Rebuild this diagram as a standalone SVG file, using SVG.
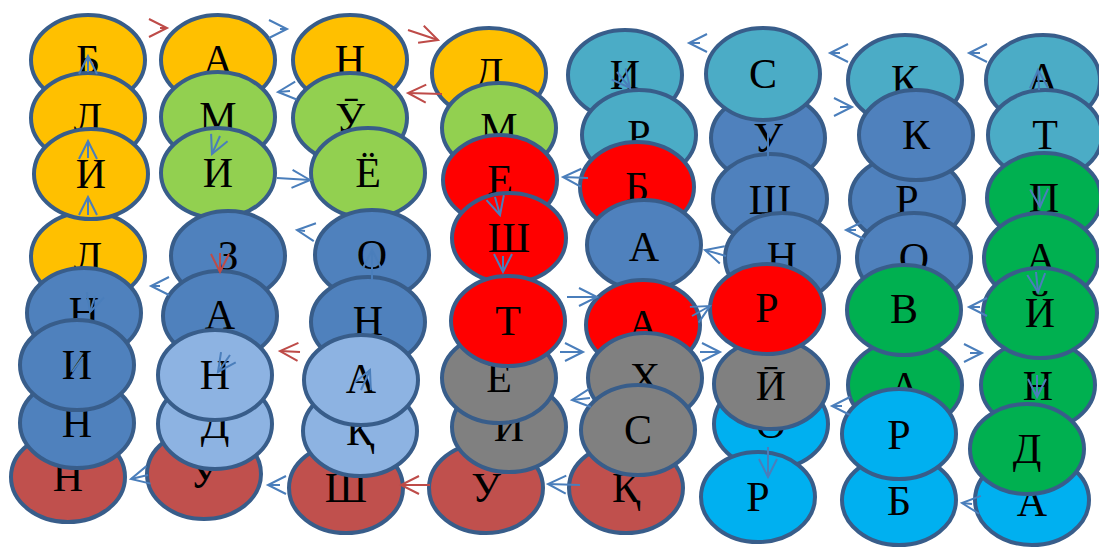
<svg xmlns="http://www.w3.org/2000/svg" width="1099" height="548" viewBox="0 0 1099 548">
<style>
.n{stroke:#385D8A;stroke-width:4}
.yel{fill:#FFC000}.lg{fill:#92D050}.bl{fill:#4F81BD}.lb{fill:#8DB3E2}.rd{fill:#FF0000}.dr{fill:#C0504D}.gr{fill:#808080}.tl{fill:#4BACC6}.cy{fill:#00B0F0}.gn{fill:#00B050}
text{font-family:"Liberation Serif","Times New Roman","DejaVu Serif",serif;font-size:42px;text-anchor:middle;fill:#000}
.cb{stroke:#4A7EBB;stroke-width:2;fill:none;marker-end:url(#ab)}
.cr{stroke:#BE4B48;stroke-width:2;fill:none;marker-end:url(#ar)}
.lnb{stroke:#4A7EBB;stroke-width:2;fill:none}
</style>
<defs>
<marker id="ab" markerUnits="userSpaceOnUse" markerWidth="22" markerHeight="22" refX="18" refY="9" orient="auto" overflow="visible"><path d="M0,0 L18,9 L0,18" fill="none" stroke="#4A7EBB" stroke-width="2"/></marker>
<marker id="ar" markerUnits="userSpaceOnUse" markerWidth="22" markerHeight="22" refX="18" refY="9" orient="auto" overflow="visible"><path d="M0,0 L18,9 L0,18" fill="none" stroke="#BE4B48" stroke-width="2"/></marker>
</defs>
<g id="nodes">
<g id="c1r1"><ellipse class="n yel" cx="88" cy="60" rx="57" ry="45"/><text x="88" y="74">Б</text></g>
<g id="c1r2"><ellipse class="n yel" cx="88" cy="118" rx="57" ry="45"/><text x="88" y="132">Л</text></g>
<g id="c1r4"><ellipse class="n yel" cx="88" cy="257" rx="57" ry="45"/><text x="88" y="271">Л</text></g>
<g id="c1r3"><ellipse class="n yel" cx="91" cy="174" rx="57" ry="45"/><text x="91" y="188">И</text></g>
<g id="c1r5"><ellipse class="n bl" cx="84" cy="313" rx="57" ry="45"/><text x="84" y="326">Н</text></g>
<g id="c1r8"><ellipse class="n dr" cx="68" cy="477" rx="57" ry="45"/><text x="68" y="491">Н</text></g>
<g id="c1r7"><ellipse class="n bl" cx="77" cy="423" rx="57" ry="45"/><text x="77" y="437">Н</text></g>
<g id="c1r6"><ellipse class="n bl" cx="77" cy="365" rx="57" ry="45"/><text x="77" y="379">И</text></g>

<g id="c2r1"><ellipse class="n yel" cx="218" cy="60" rx="57" ry="45"/><text x="218" y="74">А</text></g>
<g id="c2r2"><ellipse class="n lg" cx="218" cy="117" rx="57" ry="45"/><text x="218" y="131">М</text></g>
<g id="c2r3"><ellipse class="n lg" cx="218" cy="173" rx="57" ry="45"/><text x="218" y="187">И</text></g>
<g id="c2r4"><ellipse class="n bl" cx="228" cy="256" rx="57" ry="45"/><text x="228" y="270">З</text></g>
<g id="c2r5"><ellipse class="n bl" cx="220" cy="316" rx="57" ry="45"/><text x="220" y="329">А</text></g>
<g id="c2r8"><ellipse class="n dr" cx="204" cy="474" rx="57" ry="45"/><text x="204" y="488">У</text></g>
<g id="c2r7"><ellipse class="n lb" cx="215" cy="424" rx="57" ry="45"/><text x="215" y="438">Д</text></g>
<g id="c2r6"><ellipse class="n lb" cx="215" cy="375" rx="57" ry="45"/><text x="215" y="389">Н</text></g>

<g id="c3r1"><ellipse class="n yel" cx="350" cy="60" rx="57" ry="45"/><text x="350" y="74">Н</text></g>
<g id="c3r2"><ellipse class="n lg" cx="350" cy="118" rx="57" ry="45"/><text x="350" y="132">Ӯ</text></g>
<g id="c3r3"><ellipse class="n lg" cx="368" cy="173" rx="57" ry="45"/><text x="368" y="187">Ё</text></g>
<g id="c3r4"><ellipse class="n bl" cx="372" cy="255" rx="57" ry="45"/><text x="372" y="269">О</text></g>
<g id="c3r5"><ellipse class="n bl" cx="368" cy="322" rx="57" ry="45"/><text x="368" y="335">Н</text></g>
<g id="c3r8"><ellipse class="n dr" cx="346" cy="488" rx="57" ry="45"/><text x="346" y="502">Ш</text></g>
<g id="c3r7"><ellipse class="n lb" cx="360" cy="431" rx="57" ry="45"/><text x="360" y="445">Қ</text></g>
<g id="c3r6"><ellipse class="n lb" cx="361" cy="380" rx="57" ry="45"/><text x="361" y="393">А</text></g>

<g id="c4r1"><ellipse class="n yel" cx="489" cy="73" rx="57" ry="45"/><text x="489" y="87">Д</text></g>
<g id="c4r2"><ellipse class="n lg" cx="499" cy="128" rx="57" ry="45"/><text x="499" y="142">М</text></g>
<g id="c4r3"><ellipse class="n rd" cx="500" cy="180" rx="57" ry="45"/><text x="500" y="194">Е</text></g>
<g id="c4r4"><ellipse class="n rd" cx="509" cy="238" rx="57" ry="45"/><text x="509" y="252">Ш</text></g>
<g id="c4r8"><ellipse class="n dr" cx="486" cy="488" rx="57" ry="45"/><text x="486" y="502">У</text></g>
<g id="c4r7"><ellipse class="n gr" cx="509" cy="427" rx="57" ry="45"/><text x="509" y="441">И</text></g>
<g id="c4r6"><ellipse class="n gr" cx="499" cy="378" rx="57" ry="45"/><text x="499" y="392">Е</text></g>
<g id="c4r5"><ellipse class="n rd" cx="508" cy="321" rx="57" ry="45"/><text x="508" y="335">Т</text></g>

<g id="c5r1"><ellipse class="n tl" cx="625" cy="75" rx="57" ry="45"/><text x="625" y="89">И</text></g>
<g id="c5r2"><ellipse class="n tl" cx="639" cy="135" rx="57" ry="45"/><text x="639" y="149">Р</text></g>
<g id="c5r3"><ellipse class="n rd" cx="637" cy="187" rx="57" ry="45"/><text x="637" y="201">Б</text></g>
<g id="c5r4"><ellipse class="n bl" cx="644" cy="245" rx="57" ry="45"/><text x="644" y="261">А</text></g>
<g id="c5r5"><ellipse class="n rd" cx="643" cy="325" rx="57" ry="45"/><text x="643" y="339">А</text></g>
<g id="c5r8"><ellipse class="n dr" cx="626" cy="488" rx="57" ry="45"/><text x="626" y="502">Қ</text></g>
<g id="c5r6"><ellipse class="n gr" cx="645" cy="378" rx="57" ry="45"/><text x="645" y="392">Х</text></g>
<g id="c5r7"><ellipse class="n gr" cx="638" cy="430" rx="57" ry="45"/><text x="638" y="444">С</text></g>

<g id="c6r2"><ellipse class="n bl" cx="768" cy="138" rx="57" ry="45"/><text x="768" y="152">У</text></g>
<g id="c6r1"><ellipse class="n tl" cx="763" cy="74" rx="57" ry="46"/><text x="763" y="88">С</text></g>
<g id="c6r3"><ellipse class="n bl" cx="770" cy="199" rx="57" ry="45"/><text x="770" y="214">Ш</text></g>
<g id="c6r4"><ellipse class="n bl" cx="782" cy="258" rx="57" ry="45"/><text x="782" y="271">Н</text></g>
<g id="c6r7"><ellipse class="n cy" cx="771" cy="424" rx="57" ry="45"/><text x="771" y="438">О</text></g>
<g id="c6r6"><ellipse class="n gr" cx="771" cy="384" rx="57" ry="45"/><text x="771" y="400">Ӣ</text></g>
<g id="c6r5"><ellipse class="n rd" cx="767" cy="309" rx="57" ry="45"/><text x="767" y="322">Р</text></g>
<g id="c6r8"><ellipse class="n cy" cx="758" cy="497" rx="57" ry="45"/><text x="758" y="511">Р</text></g>

<g id="c7r1"><ellipse class="n tl" cx="905" cy="80" rx="57" ry="45"/><text x="905" y="94">К</text></g>
<g id="c7r3"><ellipse class="n bl" cx="907" cy="200" rx="57" ry="45"/><text x="907" y="214">Р</text></g>
<g id="c7r2"><ellipse class="n bl" cx="916" cy="135" rx="57" ry="45"/><text x="916" y="149">К</text></g>
<g id="c7r4"><ellipse class="n bl" cx="914" cy="258" rx="57" ry="45"/><text x="914" y="272">О</text></g>
<g id="c7r6"><ellipse class="n gn" cx="905" cy="385" rx="57" ry="45"/><text x="905" y="401">А</text></g>
<g id="c7r5"><ellipse class="n gn" cx="904" cy="310" rx="57" ry="45"/><text x="904" y="323">В</text></g>
<g id="c7r8"><ellipse class="n cy" cx="899" cy="500" rx="57" ry="45"/><text x="899" y="515">Б</text></g>
<g id="c7r7"><ellipse class="n cy" cx="899" cy="434" rx="57" ry="45"/><text x="899" y="449">Р</text></g>

<g id="c8r1"><ellipse class="n tl" cx="1043" cy="80" rx="57" ry="45"/><text x="1043" y="92">А</text></g>
<g id="c8r2"><ellipse class="n tl" cx="1045" cy="135" rx="57" ry="45"/><text x="1045" y="149">Т</text></g>
<g id="c8r3"><ellipse class="n gn" cx="1044" cy="198" rx="57" ry="45"/><text x="1044" y="212">П</text></g>
<g id="c8r4"><ellipse class="n gn" cx="1041" cy="258" rx="57" ry="45"/><text x="1041" y="272">А</text></g>
<g id="c8r6"><ellipse class="n gn" cx="1038" cy="385" rx="57" ry="45"/><text x="1038" y="400">Н</text></g>
<g id="c8r5"><ellipse class="n gn" cx="1040" cy="313" rx="57" ry="45"/><text x="1040" y="327">Й</text></g>
<g id="c8r8"><ellipse class="n cy" cx="1032" cy="500" rx="57" ry="45"/><text x="1032" y="516">А</text></g>
<g id="c8r7"><ellipse class="n gn" cx="1027" cy="449" rx="57" ry="45"/><text x="1027" y="463">Д</text></g>
</g>
<g id="connectors">
<path class="cr" d="M160,28 L167,28"/>
<path class="cb" d="M280,29 L287,29"/>
<path class="cr" d="M408,30 L438,40"/>
<path class="cr" d="M442,94 L408,93"/>
<path class="cb" d="M290,91 L278,92"/>
<path class="cb" d="M88,72 L88,56"/>
<path class="cb" d="M88,158 L88,141"/>
<path class="cb" d="M220,136 L212,154"/>
<path class="cb" d="M88,215 L88,197"/>
<path class="cb" d="M160,286 L151,286"/>
<path class="cr" d="M220,253 L220,272"/>
<path class="cb" d="M95,296 L90,312"/>
<path class="lnb" d="M72,372 L83,357"/>
<path class="cb" d="M230,355 L218,372"/>
<path class="cb" d="M277,178 L310,180"/>
<path class="cb" d="M305,231 L297,230"/>
<path class="cb" d="M372,280 L372,250"/>
<path class="cr" d="M300,352 L280,351"/>
<path class="cb" d="M495,197 L500,215"/>
<path class="cb" d="M503,256 L503,272"/>
<path class="cb" d="M588,178 L563,177"/>
<path class="cb" d="M567,297 L597,297"/>
<path class="cb" d="M560,352 L583,352"/>
<path class="cb" d="M726,256 L705,250"/>
<path class="cb" d="M692,316 L710,306"/>
<path class="cb" d="M700,352 L720,352"/>
<path class="cb" d="M700,43 L689,43"/>
<path class="cb" d="M617,72 L630,88"/>
<path class="cb" d="M840,53 L830,53"/>
<path class="cb" d="M840,107 L852,107"/>
<path class="cb" d="M980,53 L969,53"/>
<path class="cb" d="M1039,90 L1038,70"/>
<path class="lnb" d="M768,133 L768,160"/>
<path class="cb" d="M1039,186 L1040,207"/>
<path class="cb" d="M856,230 L846,230"/>
<path class="cb" d="M1036,272 L1038,292"/>
<path class="cb" d="M980,307 L969,307"/>
<path class="cb" d="M970,353 L982,353"/>
<path class="cb" d="M1037,375 L1037,397"/>
<path class="cb" d="M842,406 L832,406"/>
<path class="cb" d="M972,504 L962,503"/>
<path class="cb" d="M768,447 L768,477"/>
<path class="cb" d="M590,398 L572,400"/>
<path class="cb" d="M580,485 L548,484"/>
<path class="cr" d="M430,485 L401,485"/>
<path class="cb" d="M280,485 L268,485"/>
<path class="cb" d="M148,475 L131,479"/>
<path class="cb" d="M361,390 L370,370"/>
</g>
</svg>
